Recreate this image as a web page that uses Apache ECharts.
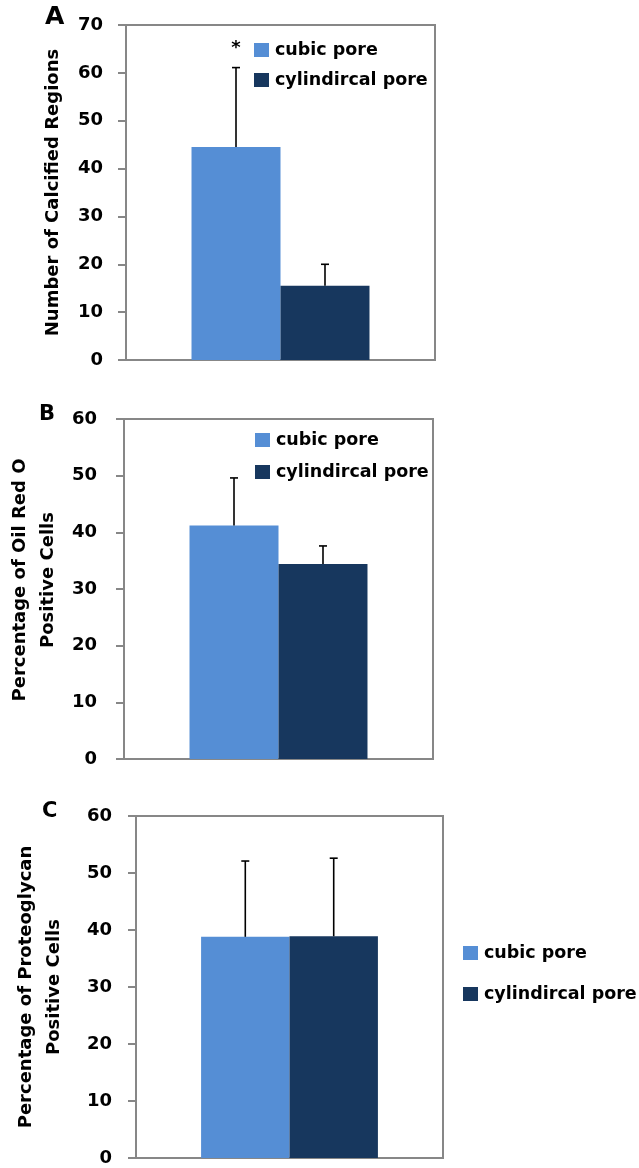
<!DOCTYPE html>
<html>
<head>
<meta charset="utf-8">
<script src="https://cdn.jsdelivr.net/npm/echarts@6/dist/echarts.min.js"></script>
<style>
  html, body { margin: 0; padding: 0; background: #fff; }
  #chart { width: 639px; height: 1168px; }
</style>
</head>
<body>
<div id="chart"></div>
<script>
// Pore geometry groups
const groups = ['cubic pore', 'cylindircal pore'];
const groupColors = ['#558ED5', '#17375E'];

// A: calcified regions (mean, SD)
const calcMean = [44.5, 15.5];
const calcErr = [16.6, 4.5];
// B: Oil Red O positive cells (%)
const oilMean = [41.2, 34.4];
const oilErr = [8.4, 3.2];
// C: proteoglycan positive cells (%)
const protMean = [38.8, 38.9];
const protErr = [13.3, 13.7];

// Axis ranges and significance markers per panel
const yMax = [70, 60, 60];
const yStep = 10;
const sigMarks = [['*', ''], ['', ''], ['', '']];

const panelLetters = ['A', 'B', 'C'];
const yTitles = [
  'Number of Calcified Regions',
  'Percentage of Oil Red O\nPositive Cells',
  'Percentage of Proteoglycan\nPositive Cells'
];

const FONT = '"DejaVu Sans", Verdana, sans-serif';
const AXIS_GREY = '#878787';
const BAR_FRAC = 0.288;

const grids = [
  { left: 126, top: 25, width: 309, height: 335 },
  { left: 124, top: 419, width: 309, height: 340 },
  { left: 136, top: 816, width: 307, height: 342 }
];
const nameGaps = [59, 62, 68];
const namePads = [[0, 0, 0, 0], [0, 0, 0, 18], [0, 0, 0, 0]];
const labelMargins = [23, 27, 24];
const legends = [
  { left: 254, top: 41, itemGap: 12 },
  { left: 255, top: 431, itemGap: 14 },
  { left: 463, top: 944, itemGap: 23 }
];
const letters = [
  { x: 45, y: 5, size: 25 },
  { x: 39, y: 404, size: 21 },
  { x: 42, y: 801, size: 21 }
];

const panels = [
  { mean: calcMean, err: calcErr },
  { mean: oilMean, err: oilErr },
  { mean: protMean, err: protErr }
];

const option = {
  backgroundColor: '#fff',
  animation: false,
  textStyle: { fontFamily: FONT },
  grid: grids.map(g => Object.assign({
    show: true, borderColor: AXIS_GREY, borderWidth: 2, backgroundColor: 'transparent'
  }, g)),
  legend: legends.map(l => ({
    left: l.left, top: l.top, orient: 'vertical', icon: 'rect', padding: 0,
    itemWidth: 15, itemHeight: 14, itemGap: l.itemGap,
    selectedMode: false,
    textStyle: { fontFamily: FONT, fontSize: 17.5, fontWeight: 'bold', color: '#000', padding: [0, 0, 0, 1] },
    data: groups
  })),
  xAxis: grids.map((g, i) => ({
    type: 'category', gridIndex: i, data: [''],
    axisLine: { show: true, lineStyle: { color: AXIS_GREY, width: 2 } },
    axisTick: { show: false }, axisLabel: { show: false }
  })),
  yAxis: grids.map((g, i) => ({
    type: 'value', gridIndex: i, min: 0, max: yMax[i], interval: yStep,
    name: yTitles[i], nameLocation: 'middle', nameRotate: 90, nameGap: nameGaps[i],
    nameTextStyle: {
      fontFamily: FONT, fontSize: 18, fontWeight: 'bold', color: '#000',
      lineHeight: 28, padding: namePads[i]
    },
    axisLine: { show: true, lineStyle: { color: AXIS_GREY, width: 2 } },
    axisTick: { show: true, inside: false, length: 8, lineStyle: { color: AXIS_GREY, width: 2 } },
    axisLabel: { fontFamily: FONT, fontSize: 18, fontWeight: 'bold', color: '#000', margin: labelMargins[i] },
    splitLine: { show: false }
  })),
  graphic: panelLetters.map((t, i) => ({
    type: 'text', left: letters[i].x, top: letters[i].y,
    style: { text: t, font: 'bold ' + letters[i].size + 'px ' + FONT, fill: '#000' }
  })),
  series: []
};

panels.forEach((p, i) => {
  groups.forEach((name, k) => {
    option.series.push({
      type: 'bar', name: name, xAxisIndex: i, yAxisIndex: i,
      barWidth: (BAR_FRAC * 100) + '%', barGap: '0%',
      itemStyle: { color: groupColors[k] },
      data: [p.mean[k]]
    });
  });
  // Upper error bars (and significance marks) drawn over the bars
  option.series.push({
    type: 'custom', xAxisIndex: i, yAxisIndex: i, z: 5,
    data: groups.map((g, k) => [k, p.mean[k], p.err[k]]),
    renderItem: function (params, api) {
      const k = api.value(0);
      const m = api.value(1);
      const e = api.value(2);
      const band = api.size([1, 0])[0];
      const base = api.coord([0, m]);
      const x = base[0] + (k === 0 ? -1 : 1) * band * BAR_FRAC / 2;
      const y0 = base[1];
      const y1 = api.coord([0, m + e])[1];
      const style = { stroke: '#000', lineWidth: 1.6 };
      const children = [
        { type: 'line', shape: { x1: x, y1: y0, x2: x, y2: y1 }, style: style },
        { type: 'line', shape: { x1: x - 4, y1: y1, x2: x + 4, y2: y1 }, style: style }
      ];
      const mark = sigMarks[i][k];
      if (mark) {
        children.push({
          type: 'text', x: x, y: y1 - 19,
          style: { text: mark, font: 'bold 18px ' + FONT, fill: '#000', align: 'center', verticalAlign: 'middle' }
        });
      }
      return { type: 'group', children: children };
    }
  });
});

const chart = echarts.init(document.getElementById('chart'), null, { renderer: 'canvas' });
chart.setOption(option);
</script>
</body>
</html>
